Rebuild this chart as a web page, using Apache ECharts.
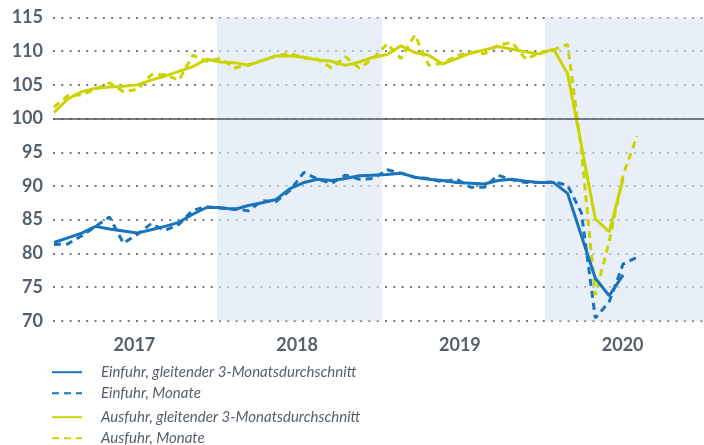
<!DOCTYPE html>
<html>
<head>
<meta charset="utf-8">
<script src="https://cdn.jsdelivr.net/npm/echarts@6/dist/echarts.min.js"></script>
<style>
  html, body { margin: 0; padding: 0; background: #fff; }
  #chart { width: 704px; height: 445px; }
</style>
</head>
<body>
<div id="chart"></div>
<script>
// Monate ab Januar 2017 (Index 0) bis Juli 2020
const years = ['2017', '2018', '2019', '2020']

const einfuhrAvg = [
  81.6, 82.3, 83.0, 84.0, 83.6, 83.3, 83.0, 83.5, 84.0, 84.6, 85.8, 86.8,
  86.8, 86.5, 87.1, 87.5, 88.0, 89.6, 90.5, 91.0, 90.8, 91.1, 91.5, 91.6,
  91.7, 91.9, 91.3, 91.0, 90.8, 90.5, 90.4, 90.3, 90.8, 91.0, 90.7, 90.5,
  90.5, 88.9, 82.6, 76.3, 73.7, 76.8
]
const einfuhrMon = [
  81.3, 81.4, 82.6, 84.0, 85.4, 81.5, 82.8, 84.4, 83.4, 84.3, 86.4, 86.9,
  86.7, 86.6, 86.3, 87.8, 87.7, 89.3, 92.0, 91.0, 90.4, 91.6, 91.0, 91.1,
  92.4, 91.9, 91.3, 91.1, 90.6, 91.0, 89.8, 89.8, 91.6, 90.9, 90.5, 90.5,
  90.6, 90.1, 86.0, 70.4, 72.8, 78.4, 79.4
]
const ausfuhrAvg = [
  100.9, 102.9, 104.0, 104.5, 104.7, 104.8, 105.0, 105.7, 106.3, 107.0, 107.7, 108.8,
  108.4, 108.3, 107.9, 108.6, 109.3, 109.3, 109.1, 108.7, 108.5, 107.9, 108.4, 109.1,
  109.5, 110.8, 109.8, 109.4, 108.1, 108.9, 109.7, 110.2, 110.7, 110.3, 109.9, 109.6,
  110.3, 106.7, 96.0, 85.1, 83.2, 91.0
]
const ausfuhrMon = [
  101.7, 103.4, 103.5, 104.4, 105.3, 104.0, 104.3, 106.5, 106.5, 105.7, 109.4, 108.5,
  108.9, 107.5, 108.0, 108.6, 109.3, 109.7, 109.0, 108.8, 107.5, 109.2, 107.5, 108.9,
  111.1, 108.9, 112.4, 107.9, 108.2, 109.3, 109.9, 109.6, 110.9, 111.3, 108.8, 109.8,
  110.2, 111.0, 95.3, 73.8, 81.8, 91.6, 97.4
]

const blau = '#1a74bb'
const gruen = '#c9d400'
const grau = '#56606a'

const toPairs = arr => arr.map((v, i) => [i, v])

const chart = echarts.init(document.getElementById('chart'))

// gemeinsame Legenden-Einstellungen
const legendBase = {
  orient: 'vertical',
  left: 51,
  height: 40,
  padding: 0,
  itemWidth: 30,
  itemHeight: 14,
  itemGap: 6,
  itemStyle: { color: 'transparent', borderWidth: 0 },
  textStyle: { fontSize: 15, lineHeight: 14, fontStyle: 'italic', color: grau, padding: [0, 0, 0, 14] }
}

const option = {
  animation: false,
  textStyle: { fontFamily: 'Lato' },
  grid: { left: 53, right: 0, top: 17.5, bottom: 124.3 },
  xAxis: [
    {
      type: 'value',
      min: -0.07,
      max: 46.83,
      show: false
    },
    {
      type: 'category',
      data: years,
      position: 'bottom',
      boundaryGap: true,
      axisLine: { show: false },
      axisTick: { show: false },
      axisLabel: { fontSize: 18, fontWeight: 'bold', color: grau, margin: 15 }
    }
  ],
  yAxis: {
    type: 'value',
    min: 70,
    max: 115,
    interval: 5,
    axisLine: { show: false },
    axisTick: { show: false },
    axisLabel: { fontSize: 18, fontWeight: 'bold', color: grau, margin: 10 },
    splitLine: { lineStyle: { color: '#707a84', width: 2, type: [2, 6.3] } }
  },
  legend: [
    Object.assign({}, legendBase, {
      top: 364.7,
      data: ['Einfuhr, gleitender 3-Monatsdurchschnitt', 'Einfuhr, Monate']
    }),
    Object.assign({}, legendBase, {
      top: 409.7,
      data: ['Ausfuhr, gleitender 3-Monatsdurchschnitt', 'Ausfuhr, Monate']
    })
  ],
  series: [
    {
      name: 'Einfuhr, gleitender 3-Monatsdurchschnitt',
      type: 'line',
      data: toPairs(einfuhrAvg),
      symbol: 'none',
      z: 4,
      lineStyle: { color: blau, width: 3 },
      itemStyle: { color: blau },
      markArea: {
        silent: true,
        itemStyle: { color: 'rgba(217,228,243,0.6)' },
        data: [
          [{ xAxis: 11.74 }, { xAxis: 23.63 }],
          [{ xAxis: 35.37 }, { xAxis: 46.83 }]
        ]
      },
      markLine: {
        silent: true,
        symbol: ['none', 'none'],
        label: { show: false },
        lineStyle: { color: '#50575e', width: 1.5, type: 'solid' },
        data: [{ yAxis: 100 }]
      }
    },
    {
      name: 'Einfuhr, Monate',
      type: 'line',
      data: toPairs(einfuhrMon),
      symbol: 'none',
      z: 3,
      lineStyle: { color: blau, width: 3, type: [7, 5] },
      itemStyle: { color: blau }
    },
    {
      name: 'Ausfuhr, gleitender 3-Monatsdurchschnitt',
      type: 'line',
      data: toPairs(ausfuhrAvg),
      symbol: 'none',
      z: 4,
      lineStyle: { color: gruen, width: 3 },
      itemStyle: { color: gruen }
    },
    {
      name: 'Ausfuhr, Monate',
      type: 'line',
      data: toPairs(ausfuhrMon),
      symbol: 'none',
      z: 3,
      lineStyle: { color: gruen, width: 3, type: [7, 5] },
      itemStyle: { color: gruen }
    }
  ]
}

chart.setOption(option)
</script>
</body>
</html>
